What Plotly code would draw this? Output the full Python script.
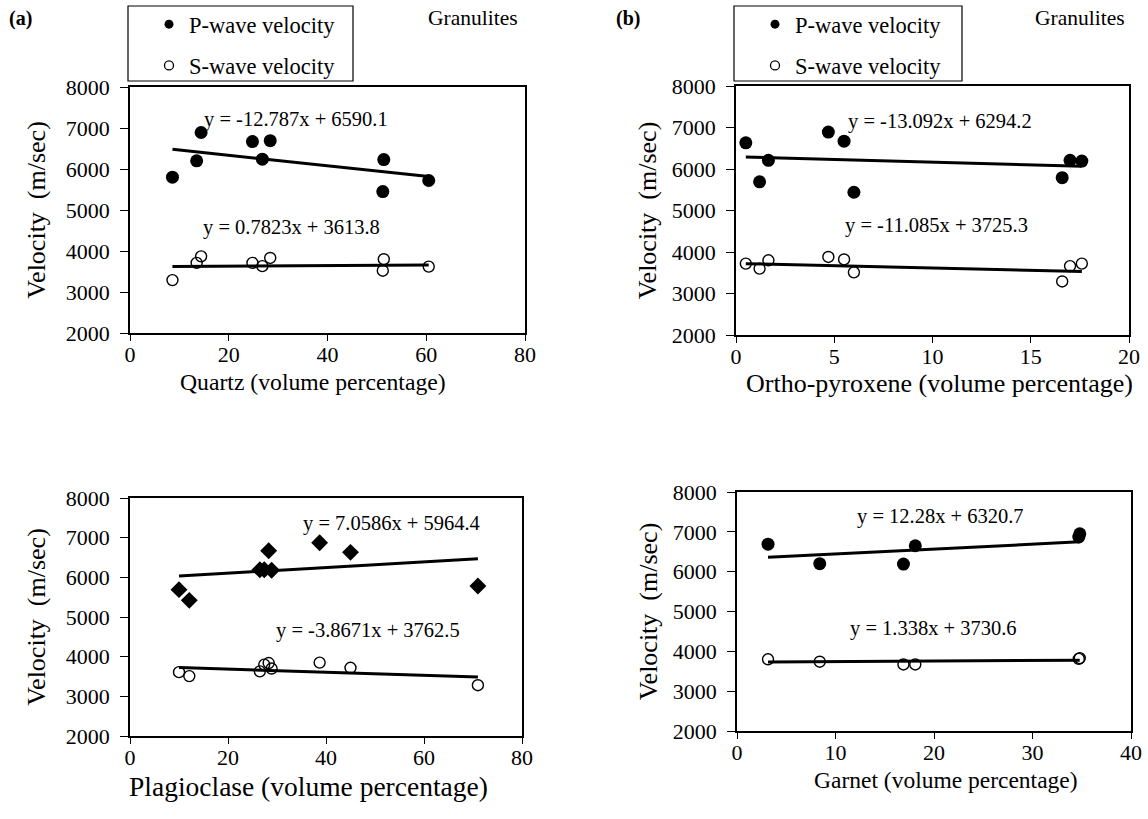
import plotly.graph_objects as go

FONT = "Liberation Serif"

# ---------------- data ----------------
# (a) Quartz
qtz_x = [8.6, 13.5, 14.4, 24.8, 26.8, 28.4, 51.4, 51.2, 60.5]
qtz_vp = [5800, 6200, 6890, 6670, 6240, 6690, 6230, 5450, 5720]
qtz_vs = [3290, 3710, 3870, 3710, 3630, 3830, 3800, 3520, 3620]

# (b) Ortho-pyroxene
opx_x = [0.5, 1.2, 1.65, 4.7, 5.5, 6.0, 16.6, 17.0, 17.6]
opx_vp = [6630, 5690, 6210, 6890, 6670, 5440, 5790, 6210, 6190]
opx_vs = [3720, 3600, 3800, 3880, 3820, 3510, 3290, 3660, 3720]

# (c) Plagioclase
plg_x = [10.0, 12.1, 26.5, 27.4, 28.9, 28.3, 38.7, 45.0, 71.0]
plg_vp = [5690, 5420, 6190, 6190, 6180, 6670, 6870, 6630, 5780]
plg_vs = [3610, 3510, 3630, 3800, 3700, 3840, 3850, 3720, 3280]

# (d) Garnet
grt_x = [3.15, 8.4, 16.9, 18.1, 34.7, 34.8]
grt_vp = [6690, 6200, 6190, 6650, 6870, 6950]
grt_vs = [3800, 3740, 3670, 3670, 3810, 3830]

# linear fits (as printed on the chart)
fit_slope_p = [-12.787, -13.092, 7.0586, 12.28]
fit_int_p = [6590.1, 6294.2, 5964.4, 6320.7]
fit_slope_s = [0.7823, -11.085, -3.8671, 1.338]
fit_int_s = [3613.8, 3725.3, 3762.5, 3730.6]

x_titles = ["Quartz (volume percentage)", "Ortho-pyroxene (volume percentage)",
            "Plagioclase (volume percentage)", "Garnet (volume percentage)"]
x_max = [80, 20, 80, 40]
x_dtick = [20, 5, 20, 10]
y_title = "Velocity  (m/sec)"
legend_names = ["P-wave velocity", "S-wave velocity"]
panel_tags = ["(a)", "(b)"]
rock_type = "Granulites"

# ---------------- layout helpers ----------------
W, H = 1148, 819

def px_x(p):
    return p / W

def px_y(p):
    return 1 - p / H

panels = [
    dict(x=qtz_x, vp=qtz_vp, vs=qtz_vs, psym="circle", dom=(130, 525, 87, 333),
         eqp=(33.7, 7203), eqs=(32.7, 4561), tfs=23.7, tpos=(313, 382), ystd=13),
    dict(x=opx_x, vp=opx_vp, vs=opx_vs, psym="circle", dom=(736, 1129, 86, 335),
         eqp=(10.4, 7137), eqs=(10.2, 4631), tfs=26, tpos=(939, 383), ystd=8),
    dict(x=plg_x, vp=plg_vp, vs=plg_vs, psym="diamond", dom=(130, 522, 498, 736),
         eqp=(53.3, 7353), eqs=(48.6, 4664), tfs=27.5, tpos=(308, 786), ystd=13),
    dict(x=grt_x, vp=grt_vp, vs=grt_vs, psym="circle", dom=(737, 1131, 492, 731),
         eqp=(20.7, 7393), eqs=(19.9, 4573), tfs=23.5, tpos=(946, 780), ystd=8),
]

fig = go.Figure()
annotations = []
shapes = []
layout = dict(
    width=W, height=H, margin=dict(l=0, r=0, t=0, b=0, autoexpand=False),
    paper_bgcolor="white", plot_bgcolor="white",
    font=dict(family=FONT, color="black"),
)

for i, p in enumerate(panels):
    n = "" if i == 0 else str(i + 1)
    xa, ya = "x" + n, "y" + n
    x0, x1, y0, y1 = p["dom"]
    common = dict(showline=True, linecolor="black", linewidth=1.6, mirror=True,
                  ticks="outside", tickwidth=1.3, tickcolor="black",
                  showgrid=False, zeroline=False, automargin=False,
                  tickfont=dict(family=FONT, size=22, color="black"))
    layout["xaxis" + n] = dict(common, domain=[px_x(x0), px_x(x1)], anchor=ya,
                               range=[0, x_max[i]], dtick=x_dtick[i], tick0=0,
                               ticklen=6, ticklabelstandoff=-5)
    layout["yaxis" + n] = dict(common, domain=[px_y(y1), px_y(y0)], anchor=xa,
                               range=[2000, 8000], dtick=1000, tick0=2000,
                               ticklen=8, ticklabelstandoff=6,
                               title=dict(text=y_title, standoff=p["ystd"],
                                          font=dict(family=FONT, size=26, color="black")))
    # x-axis title placed where the original puts it
    tx, ty = p["tpos"]
    annotations.append(dict(x=px_x(tx), y=px_y(ty), xref="paper", yref="paper",
                            xanchor="center", yanchor="middle", showarrow=False,
                            text=x_titles[i],
                            font=dict(family=FONT, size=p["tfs"], color="black")))
    # data points
    fig.add_trace(go.Scatter(x=p["x"], y=p["vp"], mode="markers", xaxis=xa, yaxis=ya,
                             marker=dict(symbol=p["psym"], size=13, color="black"),
                             showlegend=False))
    fig.add_trace(go.Scatter(x=p["x"], y=p["vs"], mode="markers", xaxis=xa, yaxis=ya,
                             marker=dict(symbol="circle-open", size=11, color="black",
                                         line=dict(width=1.4, color="black")),
                             showlegend=False))
    # regression lines over the data range
    xmin, xmax = min(p["x"]), max(p["x"])
    for sl, ic in ((fit_slope_p[i], fit_int_p[i]), (fit_slope_s[i], fit_int_s[i])):
        fig.add_trace(go.Scatter(x=[xmin, xmax], y=[sl * xmin + ic, sl * xmax + ic],
                                 mode="lines", xaxis=xa, yaxis=ya,
                                 line=dict(color="black", width=3), showlegend=False))
    # equations
    for (ex, ey), sl, ic in ((p["eqp"], fit_slope_p[i], fit_int_p[i]),
                             (p["eqs"], fit_slope_s[i], fit_int_s[i])):
        annotations.append(dict(x=ex, y=ey, xref=xa, yref=ya, showarrow=False,
                                text=f"y = {sl}x + {ic}",
                                font=dict(family=FONT, size=20.5, color="black")))

# legends (one per top panel), each in a framed box
for j, (lg, lx, rx) in enumerate((("legend", 128, 353), ("legend2", 734, 962))):
    fig.add_trace(go.Scatter(x=[None], y=[None], mode="markers", name=legend_names[0],
                             legend=lg, legendgroup=f"p{j}",
                             marker=dict(symbol="circle", size=9, color="black")))
    fig.add_trace(go.Scatter(x=[None], y=[None], mode="markers", name=legend_names[1],
                             legend=lg, legendgroup=f"s{j}",
                             marker=dict(symbol="circle-open", size=9, color="black",
                                         line=dict(width=1.3, color="black"))))
    layout[lg] = dict(x=px_x(lx), y=px_y(3), xanchor="left", yanchor="top",
                      borderwidth=0, bgcolor="rgba(0,0,0,0)",
                      font=dict(family=FONT, size=22.5, color="black"),
                      tracegroupgap=9, indentation=21,
                      itemclick=False, itemdoubleclick=False)
    shapes.append(dict(type="rect", xref="paper", yref="paper",
                       x0=px_x(lx), x1=px_x(rx), y0=px_y(81), y1=px_y(6),
                       line=dict(color="black", width=1.2), fillcolor="rgba(0,0,0,0)",
                       layer="above"))

# panel tags and rock type
for tag, tx, gx in zip(panel_tags, (7, 614), (520, 1127)):
    annotations.append(dict(x=px_x(tx), y=px_y(18), xref="paper", yref="paper",
                            xanchor="left", yanchor="middle", showarrow=False,
                            text=f"<b>{tag}</b>",
                            font=dict(family=FONT, size=20, color="black")))
    annotations.append(dict(x=px_x(gx), y=px_y(18), xref="paper", yref="paper",
                            xanchor="right", yanchor="middle", showarrow=False,
                            text=rock_type,
                            font=dict(family=FONT, size=21.5, color="black")))

layout["annotations"] = annotations
layout["shapes"] = shapes
fig.update_layout(**layout)
fig.write_html("out.html", config={"displayModeBar": False},
               post_script="document.body.style.margin='0';document.body.style.padding='0';")
